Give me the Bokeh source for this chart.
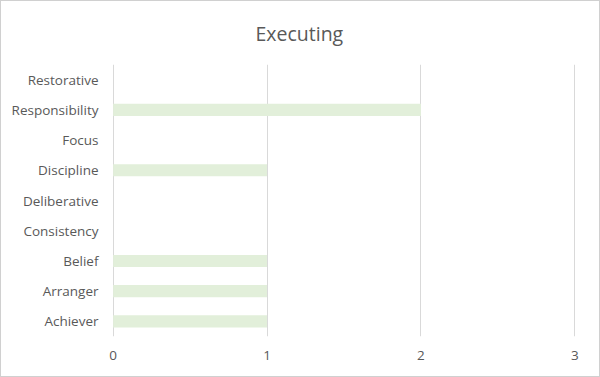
from bokeh.plotting import figure
from bokeh.embed import file_html
from bokeh.resources import INLINE
from bokeh.models import FactorRange, Range1d, FixedTicker, ColumnDataSource

categories = ["Achiever", "Arranger", "Belief", "Consistency", "Deliberative",
              "Discipline", "Focus", "Responsibility", "Restorative"]
counts = [1, 1, 1, 0, 0, 1, 0, 2, 0]
x_ticks = [0, 1, 2, 3]
title_text = "Executing"

FONT = "Open Sans"
TEXT = "#595959"

src = ColumnDataSource(dict(cat=categories, val=counts))

p = figure(width=600, height=377, output_backend="svg", toolbar_location=None,
           y_range=FactorRange(factors=categories, range_padding=0),
           x_range=Range1d(-0.004, 3.004), min_border_left=112, min_border_right=25,
           min_border_top=64, min_border_bottom=41)

p.hbar(y="cat", right="val", left=0, height=0.4, source=src,
       fill_color="#e2efda", line_color=None)

p.title.text = title_text
p.title.align = "left"
p.title.offset = 143
p.title.text_font = FONT
p.title.text_font_size = "19.5px"
p.title.text_font_style = "normal"
p.title.text_color = TEXT
p.title.standoff = 35

p.xaxis.ticker = FixedTicker(ticks=x_ticks)
p.xaxis.axis_line_color = None
p.xaxis.major_tick_line_color = None
p.xaxis.minor_tick_line_color = None
p.xaxis.major_label_text_font = FONT
p.xaxis.major_label_text_font_size = "13.5px"
p.xaxis.major_label_text_color = TEXT
p.xaxis.major_label_standoff = 8

p.yaxis.axis_line_color = None
p.yaxis.major_tick_line_color = None
p.yaxis.minor_tick_line_color = None
p.yaxis.major_label_text_font = FONT
p.yaxis.major_label_text_font_size = "13.5px"
p.yaxis.major_label_text_color = TEXT
p.yaxis.major_label_standoff = 8

p.ygrid.grid_line_color = None
p.xgrid.grid_line_color = "#d9d9d9"
p.xgrid.grid_line_width = 1
p.outline_line_color = None
p.background_fill_color = None
p.border_fill_color = None
p.styles = {"background-color": "white", "box-shadow": "inset 0 0 0 1px #d0d0d0"}

open("out.html", "w").write(file_html(p, INLINE))
